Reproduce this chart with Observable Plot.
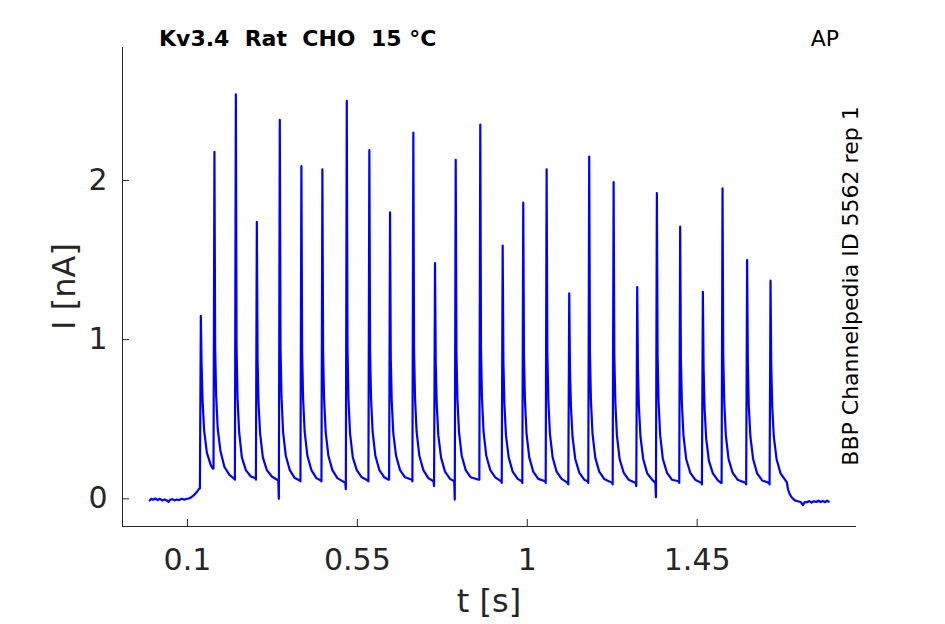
<!DOCTYPE html>
<html>
<head>
<meta charset="utf-8">
<script src="https://cdn.jsdelivr.net/npm/d3@7"></script>
<script src="https://cdn.jsdelivr.net/npm/@observablehq/plot@0.6"></script>
<style>
  html, body { margin: 0; padding: 0; background: #ffffff; }
  #chart svg { display: block; }
</style>
</head>
<body>
<div id="chart"></div>
<script>
// ---------- data ----------
const titleText = "Kv3.4  Rat  CHO  15 \u00B0C";
const cornerText = "AP";
const sideText = "BBP Channelpedia ID 5562 rep 1";
const xLabel = "t [s]";
const yLabel = "I [nA]";

const xTicks = [0.1, 0.55, 1, 1.45];
const xTickLabels = ["0.1", "0.55", "1", "1.45"];
const yTicks = [0, 1, 2];
const yTickLabels = ["0", "1", "2"];
const xDomain = [-0.072, 1.872];
const yDomain = [-0.174, 2.835];

// baseline before the train: [t (s), I (nA)]
const startBaseline = [
  [0, -0.01], [0.004, 0.0], [0.009, -0.006], [0.015, 0.002], [0.021, -0.008],
  [0.027, 0.0], [0.033, -0.01], [0.040, -0.004], [0.046, -0.012], [0.050, -0.02],
  [0.054, -0.006], [0.060, -0.002], [0.066, -0.01], [0.072, -0.004], [0.078, -0.008],
  [0.085, 0.0], [0.092, -0.006], [0.098, 0.0], [0.104, 0.002], [0.110, 0.01],
  [0.116, 0.02], [0.122, 0.035], [0.127, 0.05]
];

// spike peaks
const spikeTime = [0.1355, 0.1715, 0.2282, 0.2838, 0.3446, 0.4018, 0.4574, 0.5220, 0.5818,
  0.6366, 0.6983, 0.7557, 0.8105, 0.8756, 0.9349, 0.9894, 1.0513, 1.1112, 1.1641, 1.2287,
  1.2912, 1.3433, 1.4050, 1.4651, 1.5172, 1.5823, 1.6443];
const spikePeak = [1.15, 2.18, 2.54, 1.74, 2.38, 2.09, 2.07, 2.50, 2.19, 1.80, 2.30, 1.48,
  2.13, 2.35, 1.59, 1.86, 2.07, 1.29, 2.15, 1.99, 1.33, 1.92, 1.71, 1.30, 1.95, 1.50, 1.37];
// level just before each spike, and the lowest value of the short dip right before its upstroke
const troughBefore = [0.065, 0.19, 0.125, 0.13, 0.115, 0.115, 0.115, 0.10, 0.115, 0.12, 0.12, 0.11,
  0.11, 0.12, 0.11, 0.11, 0.11, 0.10, 0.11, 0.10, 0.10, 0.10, 0.11, 0.10, 0.10, 0.10, 0.10];
const dipBefore = [0.065, 0.19, 0.12, 0.12, 0.00, 0.11, 0.11, 0.06, 0.11, 0.12, 0.11, 0.08,
  -0.005, 0.12, 0.10, 0.10, 0.10, 0.09, 0.10, 0.09, 0.08, 0.01, 0.10, 0.09, 0.10, 0.09, 0.09];
// sampling times after each peak (s) and the currents read there (nA)
const decayOffsets = [0.0019, 0.0045, 0.0087, 0.0159, 0.0265, 0.0397];
const decayValues = [
  [0.85, 0.62, 0.43, 0.29, 0.21, null],
  [0.95, 0.65, 0.44, 0.30, 0.20, 0.15],
  [0.95, 0.63, 0.42, 0.26, 0.18, 0.14],
  [0.88, 0.60, 0.41, 0.26, 0.18, 0.14],
  [0.95, 0.64, 0.42, 0.27, 0.18, 0.13],
  [0.92, 0.63, 0.42, 0.27, 0.18, 0.13],
  [0.92, 0.63, 0.42, 0.27, 0.18, 0.13],
  [0.95, 0.62, 0.41, 0.26, 0.18, 0.135],
  [0.93, 0.63, 0.42, 0.27, 0.18, 0.135],
  [0.88, 0.61, 0.41, 0.27, 0.18, 0.135],
  [0.93, 0.63, 0.42, 0.27, 0.18, 0.13],
  [0.85, 0.60, 0.40, 0.26, 0.17, 0.125],
  [0.92, 0.63, 0.42, 0.27, 0.18, 0.135],
  [0.94, 0.63, 0.42, 0.27, 0.18, 0.135],
  [0.86, 0.60, 0.40, 0.26, 0.17, 0.125],
  [0.90, 0.62, 0.41, 0.26, 0.17, 0.125],
  [0.92, 0.62, 0.41, 0.26, 0.17, 0.125],
  [0.82, 0.58, 0.39, 0.25, 0.165, 0.12],
  [0.92, 0.62, 0.41, 0.26, 0.17, 0.125],
  [0.90, 0.61, 0.40, 0.25, 0.165, 0.12],
  [0.82, 0.58, 0.39, 0.25, 0.16, 0.12],
  [0.90, 0.61, 0.40, 0.25, 0.165, 0.12],
  [0.88, 0.60, 0.40, 0.25, 0.165, 0.12],
  [0.82, 0.57, 0.38, 0.24, 0.16, 0.115],
  [0.90, 0.61, 0.40, 0.25, 0.165, 0.12],
  [0.85, 0.58, 0.39, 0.25, 0.16, 0.115],
  [0.84, 0.58, 0.39, 0.25, 0.16, 0.115]
];

// tail after the train: [t (s), I (nA)]
const endBaseline = [
  [1.6875, 0.105], [1.6905, 0.06], [1.6950, 0.03], [1.7000, 0.01], [1.7086, -0.01],
  [1.7160, -0.015], [1.7240, -0.02], [1.7300, -0.04], [1.7350, -0.02], [1.7410, -0.022],
  [1.7470, -0.014], [1.7530, -0.024], [1.7590, -0.015], [1.7650, -0.02], [1.7710, -0.012],
  [1.7770, -0.02], [1.7830, -0.014], [1.7890, -0.021], [1.7940, -0.012], [1.7985, -0.018]
];

// ---------- build the trace table ----------
const trace = [];
startBaseline.forEach(([t, I]) => trace.push({t, I}));
spikeTime.forEach((t0, i) => {
  trace.push({t: t0 - 0.004, I: troughBefore[i]});
  trace.push({t: t0 - 0.0025, I: dipBefore[i]});
  trace.push({t: t0, I: spikePeak[i]});
  decayOffsets.forEach((dt, k) => {
    const v = decayValues[i][k];
    if (v != null) trace.push({t: t0 + dt, I: v});
  });
});
endBaseline.forEach(([t, I]) => trace.push({t, I}));

// ---------- plot ----------
const W = 945, H = 624;
const mL = 122, mR = 89, mT = 47, mB = 98;
const frameW = W - mL - mR, frameH = H - mT - mB;
const axisColor = "#262626";

const chart = Plot.plot({
  width: W,
  height: H,
  marginLeft: mL,
  marginRight: mR,
  marginTop: mT,
  marginBottom: mB,
  style: {fontFamily: "DejaVu Sans", background: "#ffffff", overflow: "visible"},
  x: {domain: xDomain},
  y: {domain: yDomain},
  marks: [
    Plot.ruleX([xDomain[0]], {stroke: axisColor, strokeWidth: 1}),
    Plot.ruleY([yDomain[0]], {stroke: axisColor, strokeWidth: 1}),
    Plot.ruleX(xTicks, {x: d => d, insetTop: frameH - 7, stroke: axisColor, strokeWidth: 1}),
    Plot.ruleY(yTicks, {y: d => d, insetRight: frameW - 7, stroke: axisColor, strokeWidth: 1}),
    Plot.axisX(xTicks, {
      tickSize: 0, tickPadding: 22, fontSize: 30, color: axisColor, label: null,
      tickFormat: d => xTickLabels[xTicks.indexOf(d)]
    }),
    Plot.axisY(yTicks, {
      tickSize: 0, tickPadding: 15, fontSize: 30, color: axisColor, label: null,
      tickFormat: d => yTickLabels[yTicks.indexOf(d)]
    }),
    Plot.line(trace, {x: "t", y: "I", stroke: "#0000ff", strokeWidth: 2.2, strokeLinejoin: "round"})
  ]
});

document.getElementById("chart").appendChild(chart);

const svg = d3.select(chart);
svg.append("text")
  .attr("x", 159).attr("y", 46).attr("text-anchor", "start")
  .attr("font-family", "DejaVu Sans").attr("font-size", 22).attr("font-weight", "bold")
  .attr("fill", "#000000").style("white-space", "pre")
  .text(titleText);
svg.append("text")
  .attr("x", 839).attr("y", 46).attr("text-anchor", "end")
  .attr("font-family", "DejaVu Sans").attr("font-size", 22)
  .attr("fill", "#000000")
  .text(cornerText);
svg.append("text")
  .attr("transform", "translate(858,286) rotate(-90)").attr("text-anchor", "middle")
  .attr("font-family", "DejaVu Sans").attr("font-size", 22)
  .attr("fill", "#000000")
  .text(sideText);
svg.append("text")
  .attr("x", (mL + W - mR) / 2).attr("y", 612).attr("text-anchor", "middle")
  .attr("font-family", "DejaVu Sans").attr("font-size", 32)
  .attr("fill", axisColor)
  .text(xLabel);
svg.append("text")
  .attr("transform", `translate(75,${(mT + H - mB) / 2}) rotate(-90)`).attr("text-anchor", "middle")
  .attr("font-family", "DejaVu Sans").attr("font-size", 32)
  .attr("fill", axisColor)
  .text(yLabel);
</script>
</body>
</html>
